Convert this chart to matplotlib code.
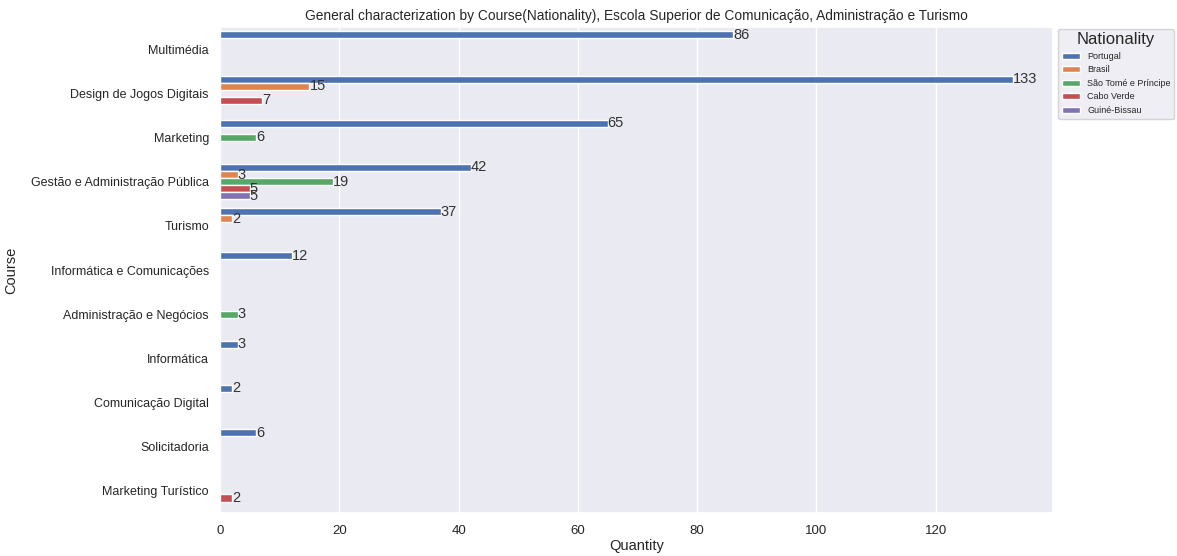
import numpy as np
import matplotlib
matplotlib.use("Agg")
import matplotlib.pyplot as plt
import seaborn as sns

courses = ["Multimédia", "Design de Jogos Digitais", "Marketing",
           "Gestão e Administração Pública", "Turismo",
           "Informática e Comunicações", "Administração e Negócios",
           "Informática", "Comunicação Digital", "Solicitadoria",
           "Marketing Turístico"]
nationalities = ["Portugal", "Brasil", "São Tomé e Príncipe", "Cabo Verde", "Guiné-Bissau"]
portugal = [86, 133, 65, 42, 37, 12, 0, 3, 2, 6, 0]
brasil = [0, 15, 0, 3, 2, 0, 0, 0, 0, 0, 0]
sao_tome = [0, 0, 6, 19, 0, 0, 3, 0, 0, 0, 0]
cabo_verde = [0, 7, 0, 5, 0, 0, 0, 0, 0, 0, 2]
guine_bissau = [0, 0, 0, 5, 0, 0, 0, 0, 0, 0, 0]
series = [portugal, brasil, sao_tome, cabo_verde, guine_bissau]

sns.set_theme(style="darkgrid")
plt.rcParams['font.family'] = ['Liberation Sans', 'DejaVu Sans']
colors = sns.color_palette("deep", 5)

fig = plt.figure(figsize=(11.77, 5.56), dpi=100)
ax = fig.add_axes([220/1177, 1 - 513/556, (1053-220)/1177, (513-27)/556])

n = len(nationalities)
w = 0.8 / n
y = np.arange(len(courses))
for i, (name, vals) in enumerate(zip(nationalities, series)):
    offs = -0.4 + w/2 + i*w
    vals = np.array(vals, dtype=float)
    mask = vals > 0
    bars = ax.barh(y[mask] + offs, vals[mask], height=w, color=colors[i],
                   edgecolor="white", linewidth=1.0, label=name)
    ax.bar_label(bars, labels=[str(int(v)) for v in vals[mask]], fontsize=10.5,
                 color="#333333", padding=0)

ax.grid(False, axis="y")
ax.grid(True, axis="x")
ax.set_yticks(y)
ax.set_yticklabels(courses, fontsize=9)
ax.tick_params(axis="y", pad=2)
ax.set_ylim(len(courses) - 0.5, -0.5)
ax.set_xlim(0, 139.65)
ax.set_xticks([0, 20, 40, 60, 80, 100, 120])
ax.tick_params(axis="x", labelsize=9.5, pad=3)
ax.set_xlabel("Quantity", fontsize=10.5, labelpad=1)
ax.set_ylabel("Course", fontsize=10.5)
ax.yaxis.set_label_coords((18 - 220) / 833, 0.5)
ax.set_title("General characterization by Course(Nationality), Escola Superior de Comunicação, Administração e Turismo",
             fontsize=9.9, pad=5)
leg = ax.legend(title="Nationality", loc="upper left", bbox_to_anchor=(1.004, 1.0),
                fontsize=6.5, title_fontsize=12, borderaxespad=0.2)

fig.savefig("out.png", dpi=100)
